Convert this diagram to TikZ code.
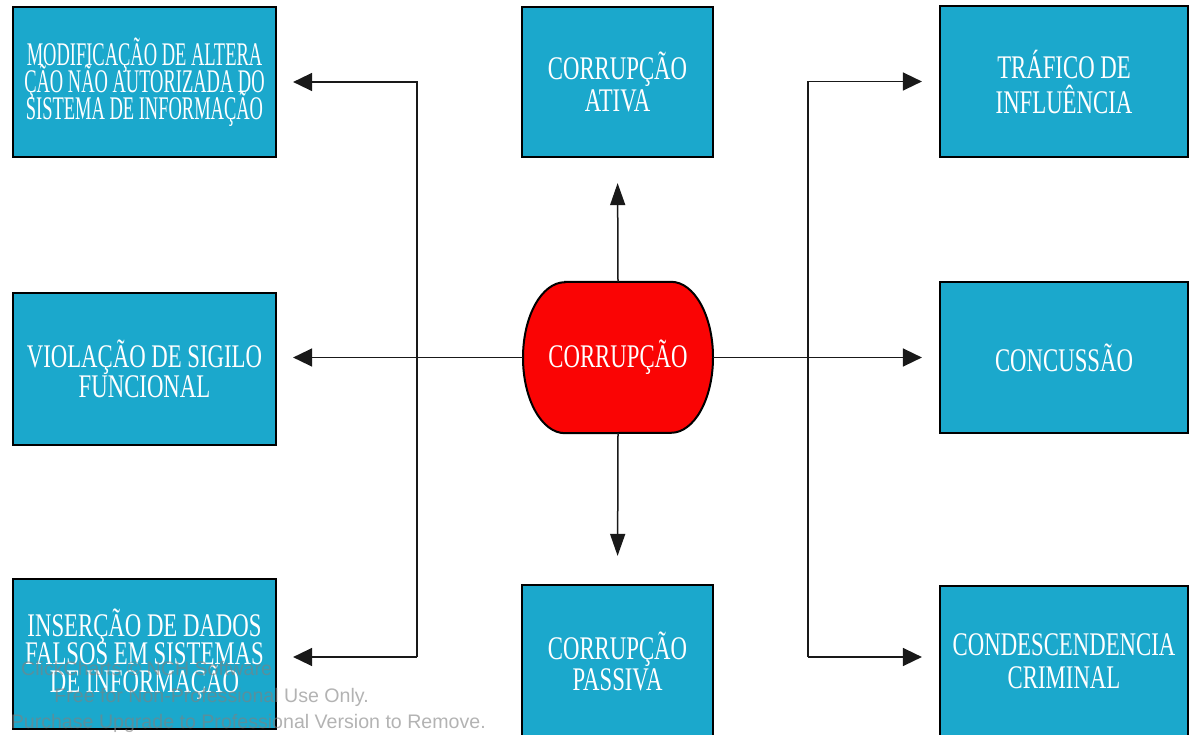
\documentclass[tikz,border=0pt]{standalone}
\usepackage{fontspec}
\setmainfont{Liberation Serif}
\newfontfamily\boxfont{Liberation Serif}[FakeStretch=0.69]
\newfontfamily\narrowfont{Liberation Serif}[FakeStretch=0.56]
\newfontfamily\wmfont{Liberation Sans}
\usetikzlibrary{arrows.meta}
\definecolor{boxblue}{RGB}{27,168,204}
\definecolor{redfill}{RGB}{250,4,4}
\newcommand\tightlinesx{\lineskiplimit=-100pt\relax}
\begin{document}
\begin{tikzpicture}[x=1pt,y=-1pt,
  box/.style={draw=black, line width=2.2pt, fill=boxblue, text=white, align=center, inner sep=0pt},
  bf/.style={font={\boxfont\fontsize{33}{#1}\selectfont\tightlinesx}},
  conn/.style={line width=1.5pt, draw=black!90},
  harrow/.style={conn, -{Triangle[length=19pt,width=18pt]}},
  varrow/.style={conn, -{Triangle[length=22pt,width=15pt]}},
  wm/.style={font=\wmfont\fontsize{19.6}{23}\selectfont, text=black!50, text opacity=0.6, inner sep=0pt}
]
\useasboundingbox (0,0) rectangle (1193,735);

% boxes
\node[box, font={\narrowfont\fontsize{33}{27}\selectfont\tightlinesx}, minimum width=263pt, minimum height=150pt] (tl) at (144.5,82)
  {MODIFICAÇÃO DE ALTERA\\ÇÃO NÃO AUTORIZADA DO\\SISTEMA DE INFORMAÇÃO};
\node[box, bf=30, minimum width=263pt, minimum height=152pt] (ml) at (144.5,369)
  {VIOLAÇÃO DE SIGILO\\FUNCIONAL};
\node[box, bf=28, minimum width=263pt, minimum height=150pt] (bl) at (144.5,654)
  {INSERÇÃO DE DADOS\\FALSOS EM SISTEMAS\\DE INFORMAÇÃO};
\node[box, bf=32, minimum width=191pt, minimum height=150pt] (tc) at (617.5,82)
  {CORRUPÇÃO\\ATIVA};
\node[box, bf=31, minimum width=191pt, minimum height=152pt] (bc) at (617.5,661)
  {CORRUPÇÃO\\PASSIVA};
\node[box, bf=35, minimum width=248pt, minimum height=151pt] (tr) at (1064,81.5)
  {TRÁFICO DE\\INFLUÊNCIA};
\node[box, bf=31, minimum width=248pt, minimum height=151pt] (mr) at (1064,357.5)
  {CONCUSSÃO};
\node[box, bf=33, minimum width=248pt, minimum height=150pt] (br) at (1064,661)
  {CONDESCENDENCIA\\CRIMINAL};

% central shape
\node[minimum width=190pt, minimum height=151pt, inner sep=0pt] (c) at (618,357.5) {};
\draw[fill=redfill, line width=2pt]
  ([xshift=-53pt]c.north) -- ([xshift=53pt]c.north)
  arc[start angle=90, end angle=-90, x radius=42pt, y radius=75.5pt]
  -- ([xshift=-53pt]c.south)
  arc[start angle=270, end angle=90, x radius=42pt, y radius=75.5pt] -- cycle;
\node[text=white, font=\boxfont\fontsize{33}{31}\selectfont, inner sep=0pt] (ct) at (c.center) {CORRUPÇÃO};

% connectors
\coordinate (lt) at (417,82);
\coordinate (lb) at (417,657);
\coordinate (rt) at (808,81.5);
\coordinate (rb) at (808,657);

\draw[varrow, shorten >=25pt] (c.north) -- (tc.south);
\draw[varrow, shorten >=28pt] (c.south) -- (bc.north);

\draw[harrow, shorten >=16pt] (c.west) -- (ml.east |- c.west);
\draw[harrow, shorten >=16pt] (lb) -- (lt) -- (tl.east);
\draw[harrow, shorten >=16pt] (lb) -- (bl.east |- lb);

\draw[harrow, shorten >=17pt] (c.east) -- (mr.west |- c.east);
\draw[harrow, shorten >=17pt] (rb) -- (rt) -- (tr.west);
\draw[harrow, shorten >=17pt] (rb) -- (br.west |- rb);

% watermark
\node[wm, anchor=base west] (wm1) at (21,675) {ClickCharts © NCH Software};
\node[wm, anchor=base east] (wm2) at (369,702) {Free for Non-Professional Use Only.};
\node[wm, anchor=base east] (wm3) at (486,728) {Purchase Upgrade to Professional Version to Remove.};
\end{tikzpicture}
\end{document}
